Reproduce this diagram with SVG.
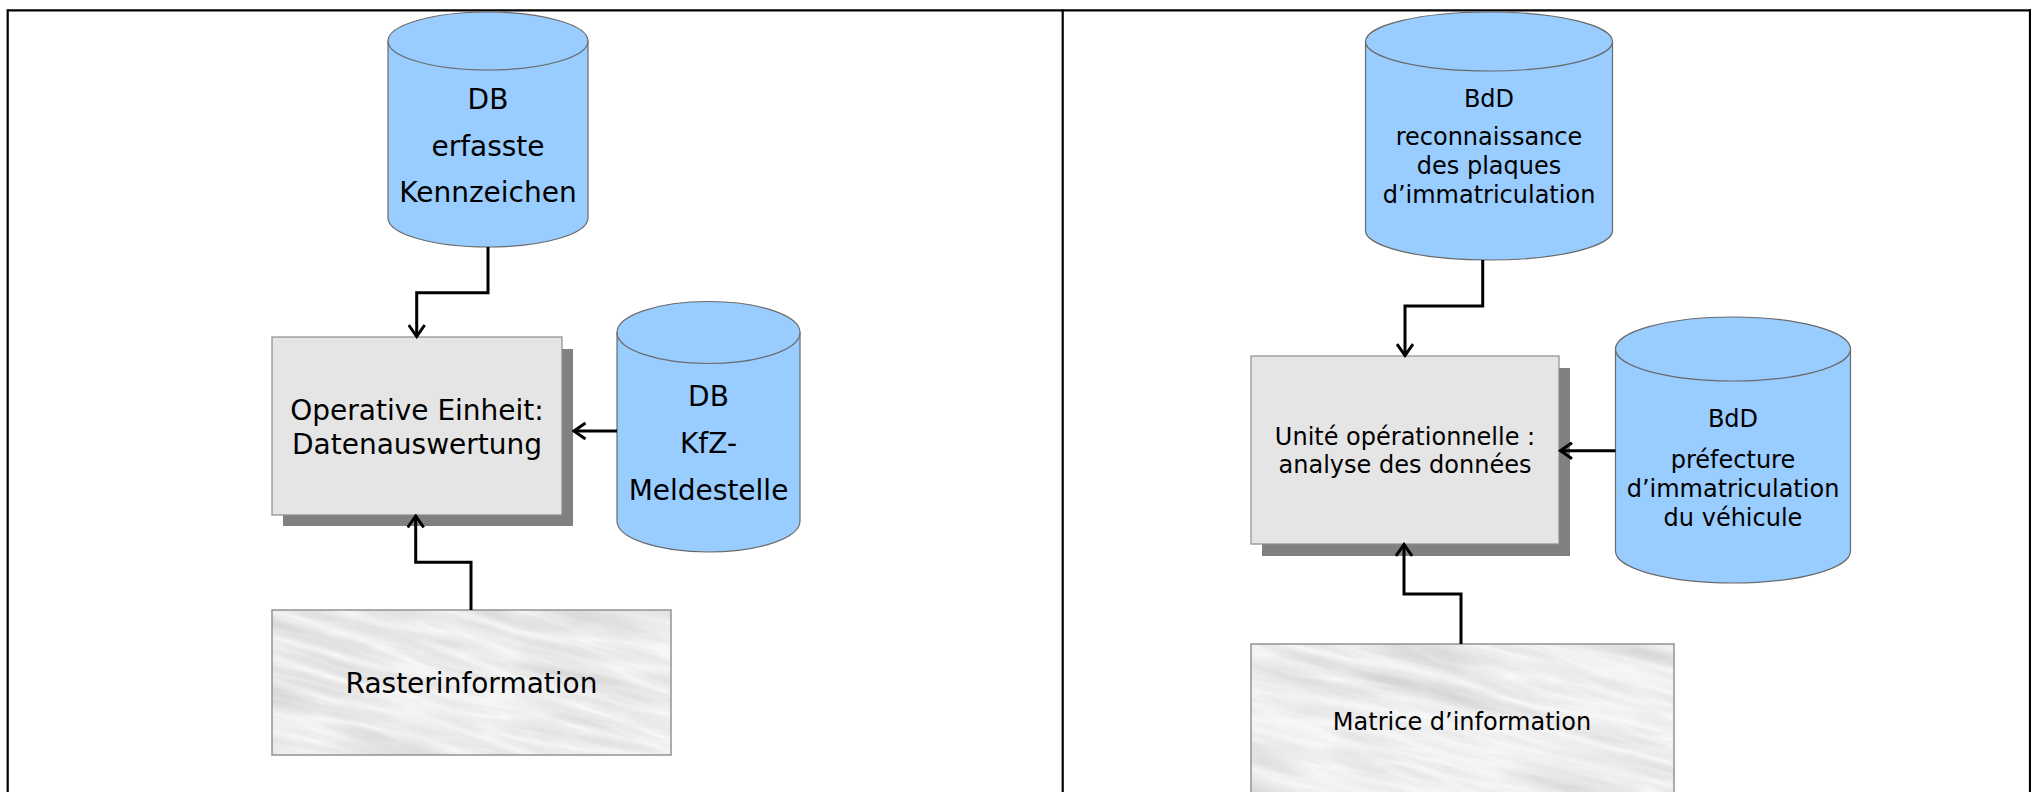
<svg xmlns="http://www.w3.org/2000/svg" width="2031" height="792" viewBox="0 0 2031 792">
  <style>
    .frame { stroke: #000; stroke-width: 2.2; fill: none; }
    .db { fill: #99CCFF; stroke: #6a6a6a; stroke-width: 1.2; }
    .unit { fill: #E5E5E5; stroke: #8c8c8c; stroke-width: 1.2; }
    .shadow { fill: #808080; }
    .raster-edge { fill: none; stroke: #8c8c8c; stroke-width: 1.4; }
    .wire { fill: none; stroke: #000; stroke-width: 3; marker-end: url(#head); }
    text { font-family: "DejaVu Sans", Verdana, sans-serif; fill: #000; text-anchor: middle; }
    .de { font-size: 28px; }
    .fr { font-size: 24px; }
  </style>
  <defs>
    <marker id="head" viewBox="0 0 16 18" refX="14" refY="9" markerWidth="16" markerHeight="18" markerUnits="userSpaceOnUse" orient="auto">
      <path d="M2,1 L13.5,9 L2,17" fill="none" stroke="#000" stroke-width="3"/>
    </marker>
    <!-- rippled grey surface for the raster boxes -->
    <filter id="ripple" x="0" y="0" width="100%" height="100%" color-interpolation-filters="sRGB">
      <feTurbulence type="turbulence" baseFrequency="0.006 0.045" numOctaves="3" seed="7" result="n"/>
      <feColorMatrix in="n" type="matrix" values="-0.17 0 0 0 0.975  -0.17 0 0 0 0.975  -0.17 0 0 0 0.975  0 0 0 0 1" result="c"/>
      <feComposite in="c" in2="SourceGraphic" operator="in"/>
    </filter>
    <clipPath id="clipRaster"><rect x="272" y="610" width="399" height="145"/></clipPath>
    <clipPath id="clipMatrice"><rect x="1251" y="644" width="423" height="160"/></clipPath>
  </defs>

  <!-- table frame -->
  <g id="frame">
    <line class="frame" x1="7.7" y1="10.3" x2="2031" y2="10.3"/>
    <line class="frame" x1="7.7" y1="9.2" x2="7.7" y2="792"/>
    <line class="frame" x1="1062.7" y1="9.2" x2="1062.7" y2="792"/>
    <line class="frame" x1="2030" y1="9.2" x2="2030" y2="792"/>
  </g>

  <!-- German panel -->
  <g id="db-kennzeichen">
    <path class="db" d="M388,41 V218 A100,29 0 0 0 588,218 V41 Z"/>
    <ellipse class="db" cx="488" cy="41" rx="100" ry="29"/>
    <text class="de" x="488" y="109">DB</text>
    <text class="de" x="488" y="156">erfasste</text>
    <text class="de" x="488" y="202">Kennzeichen</text>
  </g>

  <g id="operative-einheit">
    <rect class="shadow" x="283" y="349" width="290" height="177"/>
    <rect class="unit" x="272" y="337" width="290" height="178"/>
    <text class="de" x="417" y="420">Operative Einheit:</text>
    <text class="de" x="417" y="454">Datenauswertung</text>
  </g>

  <g id="db-kfz">
    <path class="db" d="M617,332.5 V521 A91.5,31 0 0 0 800,521 V332.5 Z"/>
    <ellipse class="db" cx="708.5" cy="332.5" rx="91.5" ry="31"/>
    <text class="de" x="708.5" y="406">DB</text>
    <text class="de" x="708.5" y="453">KfZ-</text>
    <text class="de" x="708.5" y="500">Meldestelle</text>
  </g>

  <g id="rasterinformation">
    <g clip-path="url(#clipRaster)">
      <rect x="180" y="520" width="590" height="330" fill="#fff" filter="url(#ripple)" transform="rotate(14 471 682)"/>
    </g>
    <rect class="raster-edge" x="272" y="610" width="399" height="145"/>
    <text class="de" x="471.5" y="693">Rasterinformation</text>
  </g>

  <!-- French panel -->
  <g id="bdd-reconnaissance">
    <path class="db" d="M1365.5,41.5 V230.5 A123.5,29.5 0 0 0 1612.5,230.5 V41.5 Z"/>
    <ellipse class="db" cx="1489" cy="41.5" rx="123.5" ry="29.5"/>
    <text class="fr" x="1489" y="107">BdD</text>
    <text class="fr" x="1489" y="145">reconnaissance</text>
    <text class="fr" x="1489" y="174">des plaques</text>
    <text class="fr" x="1489" y="203">d’immatriculation</text>
  </g>

  <g id="unite-operationnelle">
    <rect class="shadow" x="1262" y="368" width="308" height="188"/>
    <rect class="unit" x="1251" y="356" width="308" height="188"/>
    <text class="fr" x="1405" y="445">Unité opérationnelle :</text>
    <text class="fr" x="1405" y="473">analyse des données</text>
  </g>

  <g id="bdd-prefecture">
    <path class="db" d="M1615.5,349 V551 A117.5,32 0 0 0 1850.5,551 V349 Z"/>
    <ellipse class="db" cx="1733" cy="349" rx="117.5" ry="32"/>
    <text class="fr" x="1733" y="427">BdD</text>
    <text class="fr" x="1733" y="468">préfecture</text>
    <text class="fr" x="1733" y="497">d’immatriculation</text>
    <text class="fr" x="1733" y="526">du véhicule</text>
  </g>

  <g id="matrice-information">
    <g clip-path="url(#clipMatrice)">
      <rect x="1150" y="560" width="630" height="330" fill="#fff" filter="url(#ripple)" transform="rotate(14 1462 720)"/>
    </g>
    <rect class="raster-edge" x="1251" y="644" width="423" height="160"/>
    <text class="fr" x="1462" y="730">Matrice d’information</text>
  </g>

  <!-- connectors -->
  <g id="connectors">
    <path class="wire" d="M488,247 V292.7 H416.7 V337"/>
    <path class="wire" d="M617,431 H573.5"/>
    <path class="wire" d="M471,610 V562.3 H415.7 V515.5"/>
    <path class="wire" d="M1482.7,260 V306 H1405 V356"/>
    <path class="wire" d="M1615.5,450.7 H1560"/>
    <path class="wire" d="M1461,644 V594 H1404 V544"/>
  </g>
</svg>
